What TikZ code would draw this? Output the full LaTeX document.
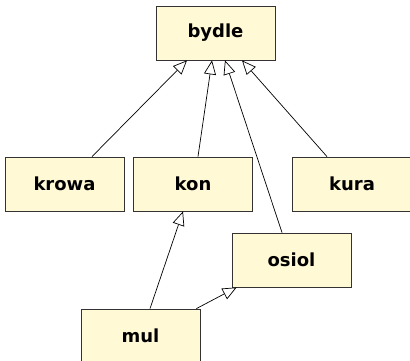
\documentclass[tikz,border=0pt]{standalone}
\usepackage{fontspec}
\setsansfont{DejaVu Sans}
\usetikzlibrary{arrows.meta}
\definecolor{boxfill}{HTML}{FFF9D6}
\definecolor{boxline}{HTML}{333333}
\begin{document}
\begin{tikzpicture}[x=1pt,y=-1pt,
  cls/.style={draw=boxline, line width=0.8pt, fill=boxfill, minimum width=119pt, minimum height=54pt, inner sep=0pt,
    font=\sffamily\bfseries\fontsize{18}{22}\selectfont},
  inh/.style={draw=black, line width=0.7pt, -{Triangle[open, length=14pt, width=12pt, fill=white]}}]
\clip (0,0) rectangle (410,361);
\useasboundingbox (0,0) rectangle (410,361);
\node[cls] (bydle) at (215.5,33) {bydle};
\node[cls] (krowa) at (64.5,184) {krowa};
\node[cls] (kon) at (193,184) {kon};
\node[cls] (kura) at (352,184) {kura};
\node[cls] (osiol) at (291.5,260) {osiol};
\node[cls] (mul) at (140.5,336) {mul};
\draw[inh] ([xshift=27.5pt]krowa.north) -- ([xshift=-28.5pt]bydle.south);
\draw[inh] ([xshift=5pt]kon.north) -- ([xshift=-3.5pt]bydle.south);
\draw[inh] ([xshift=-9.5pt]osiol.north) -- ([xshift=9.5pt]bydle.south);
\draw[inh] ([xshift=-25pt]kura.north) -- ([xshift=26.5pt]bydle.south);
\draw[inh] ([xshift=9.5pt]mul.north) -- ([xshift=-10pt]kon.south);
\draw[inh] ([xshift=-4pt]mul.north east) -- ([xshift=5pt]osiol.south west);
\end{tikzpicture}
\end{document}
